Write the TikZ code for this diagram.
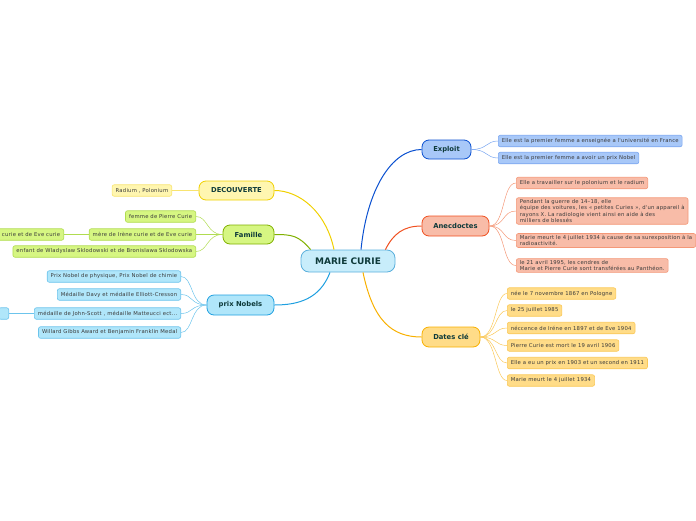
\documentclass[tikz,border=0pt]{standalone}
\usepackage{fontspec}
\setmainfont{DejaVu Sans}
\newfontfamily\leaffont{DejaVu Sans}[LetterSpace=4]
\definecolor{rootfill}{HTML}{C8EDFB}
\definecolor{rootline}{HTML}{5AAFDC}
\definecolor{topictext}{HTML}{0E3A3A}
\definecolor{leaftext}{HTML}{3A3A3A}
\definecolor{expline}{HTML}{0A50D0}
\definecolor{expfill}{HTML}{A8C8F8}
\definecolor{expleaf}{HTML}{7AA6F0}
\definecolor{aneline}{HTML}{F05020}
\definecolor{anefill}{HTML}{F8BCA8}
\definecolor{aneleaf}{HTML}{F49878}
\definecolor{datline}{HTML}{F8B000}
\definecolor{datfill}{HTML}{FFDC88}
\definecolor{datleaf}{HTML}{FAC858}
\definecolor{decline}{HTML}{F0D000}
\definecolor{decfill}{HTML}{FFF6B0}
\definecolor{decleaf}{HTML}{F8E470}
\definecolor{famline}{HTML}{80B000}
\definecolor{famfill}{HTML}{D6F682}
\definecolor{famleaf}{HTML}{B0DC50}
\definecolor{nobline}{HTML}{20A0E0}
\definecolor{nobfill}{HTML}{B0E6FA}
\definecolor{nobleaf}{HTML}{6CC4EC}

\begin{document}
\begin{tikzpicture}[x=1pt,y=-1pt,
  root/.style={draw=rootline,fill=rootfill,rounded corners=8pt,line width=0.8pt,
    minimum width=94pt,minimum height=22pt,inner sep=0pt,
    font=\fontsize{9}{10}\selectfont\bfseries,text=topictext},
  topic/.style={rounded corners=7pt,line width=0.8pt,minimum height=19pt,inner sep=0pt,
    font=\fontsize{6.8}{8}\selectfont\bfseries,text=topictext},
  leaf/.style={rounded corners=2pt,line width=0.6pt,minimum height=11.5pt,
    inner xsep=3.5pt,inner ysep=1.6pt,align=left,
    font=\leaffont\fontsize{5.3}{6.4}\selectfont,text=leaftext},
  link/.style={line width=1pt},
  twig/.style={line width=0.5pt}]
  \useasboundingbox (0,0) rectangle (696,520);

  % centre and main topics
  \node[root] (root) at (348,261) {MARIE CURIE};
  \node[topic,draw=expline,fill=expfill,minimum width=49pt] (exploit) at (446.5,149.5) {Exploit};
  \node[topic,draw=aneline,fill=anefill,minimum width=67pt,minimum height=20pt] (anec) at (455.5,226) {Anecdoctes};
  \node[topic,draw=datline,fill=datfill,minimum width=58pt,minimum height=20pt] (dates) at (451,337) {Dates clé};
  \node[topic,draw=decline,fill=decfill,minimum width=75pt] (decouv) at (236.5,190.5) {DECOUVERTE};
  \node[topic,draw=famline,fill=famfill,minimum width=51pt] (famille) at (248.5,234.5) {Famille};
  \node[topic,draw=nobline,fill=nobfill,minimum width=67pt,minimum height=20pt] (nobels) at (240.5,305) {prix Nobels};

  \draw[link,expline] ([xshift=13]root.north) .. controls +(6,-60) and +(-30,0) .. (exploit.west);
  \draw[link,aneline] ([xshift=-10]root.north east) .. controls +(8,-16) and +(-18,0) .. (anec.west);
  \draw[link,datline] ([xshift=15]root.south) .. controls +(10,48) and +(-30,0) .. (dates.west);
  \draw[link,decline] ([xshift=-14]root.north) .. controls +(-8,-38) and +(25,0) .. (decouv.east);
  \draw[link,famline] ([xshift=10]root.north west) .. controls +(-12,-14) and +(18,0) .. (famille.east);
  \draw[link,nobline] ([xshift=-18]root.south) .. controls +(-10,26) and +(25,0) .. (nobels.east);

  % right side
  \foreach \n/\y/\t in {e1/141/{Elle est la premier femme a enseignée a l'université en France},
                        e2/158/{Elle est la premier femme a avoir un prix Nobel}}{
    \node[leaf,draw=expleaf,fill=expfill,anchor=west] (\n) at (498,\y) {\t};
    \draw[twig,expleaf] (exploit.east) .. controls +(16,0) and +(-12,0) .. (\n.west);
  }
  \foreach \n/\y/\t in {a1/183/{Elle a travailler sur le polonium et le radium},
                        a2/211/{Pendant la guerre de 14–18, elle\\équipe des voitures, les « petites Curies », d'un appareil à\\rayons X. La radiologie vient ainsi en aide à des\\milliers de blessés},
                        a3/240.5/{Marie meurt le 4 juillet 1934 à cause de sa surexposition à la\\radioactivité.},
                        a4/265.5/{le 21 avril 1995, les cendres de\\Marie et Pierre Curie sont transférées au Panthéon.}}{
    \node[leaf,draw=aneleaf,fill=anefill,anchor=west] (\n) at (516,\y) {\t};
    \draw[twig,aneleaf] (anec.east) .. controls +(16,0) and +(-14,0) .. (\n.west);
  }
  \foreach \n/\y/\t in {d1/293.5/{née le 7 novembre 1867 en Pologne},
                        d2/310.5/{le 25 juillet 1985},
                        d3/328/{néccence de Iréne en 1897 et de Eve 1904},
                        d4/345.5/{Pierre Curie est mort le 19 avril 1906},
                        d5/363/{Elle a eu un prix en 1903 et un second en 1911},
                        d6/380.5/{Marie meurt le 4 juillet 1934}}{
    \node[leaf,draw=datleaf,fill=datfill,anchor=west] (\n) at (507,\y) {\t};
    \draw[twig,datleaf] (dates.east) .. controls +(16,0) and +(-12,0) .. (\n.west);
  }

  % left side
  \node[leaf,draw=decleaf,fill=decfill,anchor=east] (radium) at (172,190.5) {Radium , Polonium};
  \draw[twig,decleaf] (decouv.west) -- (radium.east);
  \foreach \n/\y/\t in {f1/216.5/{femme de Pierre Curie},
                        f2/234.5/{mère de Irène curie et de Eve curie},
                        f3/251.5/{enfant de Wladyslaw Sklodowski et de Bronislawa Sklodowska}}{
    \node[leaf,draw=famleaf,fill=famfill,anchor=east] (\n) at (196,\y) {\t};
    \draw[twig,famleaf] (famille.west) .. controls +(-16,0) and +(12,0) .. (\n.east);
  }
  \node[leaf,draw=famleaf,fill=famfill,anchor=east] (f2b) at (64,234.5) {mère de Irène curie et de Eve curie};
  \draw[twig,famleaf] (f2.west) -- (f2b.east);
  \foreach \n/\y/\t in {p1/276.5/{Prix Nobel de physique, Prix Nobel de chimie},
                        p2/294.5/{Médaille Davy et médaille Elliott-Cresson},
                        p3/313.5/{médaille de John-Scott , médaille Matteucci ect...},
                        p4/332.5/{Willard Gibbs Award et Benjamin Franklin Medal}}{
    \node[leaf,draw=nobleaf,fill=nobfill,anchor=east] (\n) at (181,\y) {\t};
    \draw[twig,nobleaf] (nobels.west) .. controls +(-16,0) and +(12,0) .. (\n.east);
  }
  \node[leaf,draw=nobleaf,fill=nobfill,minimum width=10pt,anchor=east] (p3b) at (9,313.5) {};
  \draw[twig,nobleaf] (p3.west) -- (p3b.east);
\end{tikzpicture}
\end{document}
